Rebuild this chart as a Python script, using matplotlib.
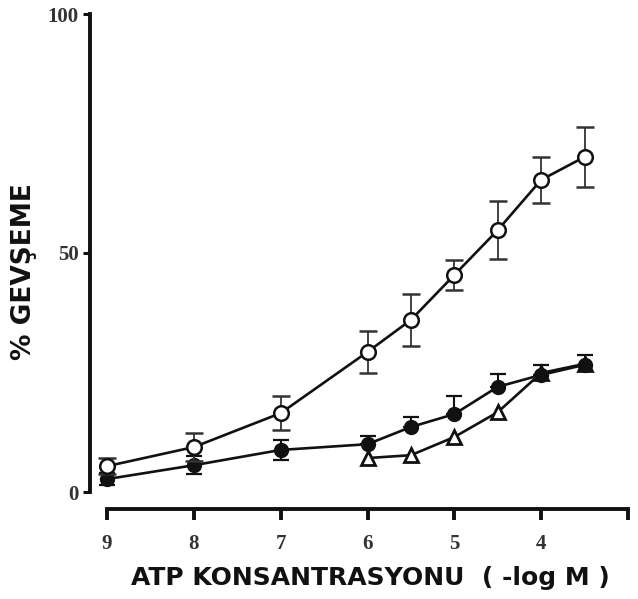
import numpy as np
import matplotlib.pyplot as plt

# -log M concentrations
x = [9, 8, 7, 6, 5.5, 5, 4.5, 4, 3.5]
x_tri = [6, 5.5, 5, 4.5, 4, 3.5]

# % relaxation
open_y = [5.4, 9.4, 16.5, 29.3, 36.0, 45.4, 54.8, 65.3, 70.1]
open_err = [1.7, 2.9, 3.6, 4.3, 5.4, 3.2, 6.0, 4.8, 6.2]

filled_y = [2.7, 5.6, 8.8, 10.0, 13.6, 16.3, 22.0, 24.5, 26.6]
filled_err_lo = [1.3, 1.9, 2.1, 0, 0, 0, 0, 0, 0]
filled_err_hi = [1.3, 1.9, 2.1, 1.7, 2.1, 3.8, 2.7, 2.1, 2.1]

tri_y = [7.1, 7.7, 11.5, 16.7, 24.9, 26.8]

xticks = [9, 8, 7, 6, 5, 4, 3]
xticklabels = ["9", "8", "7", "6", "5", "4", ""]
yticks = [0, 50, 100]

fig = plt.figure(figsize=(6.38, 5.99), dpi=100)
ax = fig.add_axes([90 / 638, 1 - 492 / 599, 538 / 638, 478 / 599])

ink = "#111111"
ax.plot(x_tri, tri_y, color=ink, lw=1.9, marker="^", ms=9.5,
        mfc="white", mec=ink, mew=2.0, zorder=2)
ax.errorbar(x, filled_y, yerr=[filled_err_lo, filled_err_hi], color=ink,
            lw=1.9, marker="o", ms=10, mfc=ink, mec=ink,
            ecolor=ink, elinewidth=1.5, capsize=6, capthick=1.6, zorder=3)
ax.errorbar(x, open_y, yerr=open_err, color=ink, lw=1.9, marker="o", ms=10.5,
            mfc="white", mec=ink, mew=1.8,
            ecolor="#333333", elinewidth=1.3, capsize=6.5, capthick=1.4, zorder=4)

ax.set_xlim(9.196, 3)
ax.set_ylim(0, 100)

for s in ["top", "right"]:
    ax.spines[s].set_visible(False)
ax.spines["left"].set_linewidth(2.8)
ax.spines["bottom"].set_linewidth(2.8)
ax.spines["left"].set_bounds(0, 100)
ax.spines["bottom"].set_bounds(9, 3)
ax.spines["bottom"].set_position(("outward", 12))
ax.spines["left"].set_color(ink)
ax.spines["bottom"].set_color(ink)

ax.set_xticks(xticks)
ax.set_xticklabels(xticklabels)
ax.set_yticks(yticks)
ax.tick_params(axis="x", direction="out", length=8, width=2.8, pad=10, colors=ink)
ax.tick_params(axis="y", direction="out", length=5, width=2.2, pad=3, colors=ink)
for lab in ax.get_xticklabels() + ax.get_yticklabels():
    lab.set_fontfamily("Liberation Serif")
    lab.set_fontweight("bold")
    lab.set_fontsize(15)
    lab.set_color("#333333")

ax.set_xlabel("ATP KONSANTRASYONU  ( -log M )", fontsize=18,
              fontweight="bold", family="DejaVu Sans", color=ink)
ax.set_ylabel("% GEVŞEME", fontsize=19, fontweight="bold",
              family="DejaVu Sans", color=ink)
ax.xaxis.set_label_coords(0.522, -0.155)
ax.yaxis.set_label_coords(-0.098, 0.462)

fig.savefig("out.png", dpi=100)
